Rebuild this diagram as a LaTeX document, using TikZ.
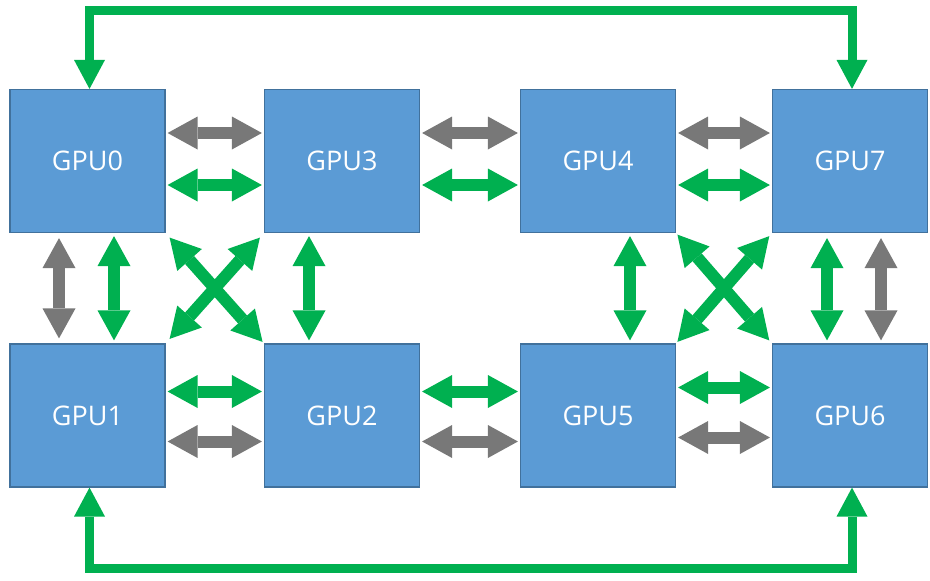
\documentclass[tikz,border=0pt]{standalone}
\usepackage{fontspec}
\setmainfont{Open Sans}
\usetikzlibrary{arrows.meta}
\definecolor{gpublue}{HTML}{5B9BD5}
\definecolor{gpuedge}{HTML}{41719C}
\definecolor{lnkgreen}{HTML}{00B050}
\definecolor{lnkgray}{HTML}{787878}
\tikzset{
  gpu/.style={draw=gpuedge, line width=1.2pt, fill=gpublue, minimum width=155pt, minimum height=143pt,
    inner sep=0pt, text=white, font=\fontsize{27}{30}\selectfont},
  fat/.style={line width=12pt, {Triangle[width=33pt,length=30pt,line width=0pt]}-{Triangle[width=33pt,length=30pt,line width=0pt]}, shorten <=2pt, shorten >=2pt},
  grn/.style={fat, draw=lnkgreen, fill=lnkgreen},
  gry/.style={fat, draw=lnkgray, fill=lnkgray},
  ring/.style={draw=lnkgreen, line width=9pt, line join=miter, fill=none},
}
\begin{document}
\begin{tikzpicture}[x=1pt,y=-1pt]
\useasboundingbox (0,0) rectangle (930,581);
\node[gpu] (g0) at (87.5,161) {GPU0};
\node[gpu] (g3) at (342,161) {GPU3};
\node[gpu] (g4) at (598,161) {GPU4};
\node[gpu] (g7) at (850,161) {GPU7};
\node[gpu] (g1) at (87.5,415.5) {GPU1};
\node[gpu] (g2) at (342,415.5) {GPU2};
\node[gpu] (g5) at (598,415.5) {GPU5};
\node[gpu] (g6) at (850,415.5) {GPU6};
% horizontal links, top row
\draw[gry] ([yshift=28pt]g0.east) -- ([yshift=28pt]g3.west);
\draw[grn] ([yshift=-24pt]g0.east) -- ([yshift=-24pt]g3.west);
\draw[gry] ([yshift=28pt]g3.east) -- ([yshift=28pt]g4.west);
\draw[grn] ([yshift=-24pt]g3.east) -- ([yshift=-24pt]g4.west);
\draw[gry] ([yshift=28pt]g4.east) -- ([yshift=28pt]g7.west);
\draw[grn] ([yshift=-24pt]g4.east) -- ([yshift=-24pt]g7.west);
% horizontal links, bottom row
\draw[grn] ([yshift=24pt]g1.east) -- ([yshift=24pt]g2.west);
\draw[gry] ([yshift=-26pt]g1.east) -- ([yshift=-26pt]g2.west);
\draw[grn] ([yshift=24pt]g2.east) -- ([yshift=24pt]g5.west);
\draw[gry] ([yshift=-26pt]g2.east) -- ([yshift=-26pt]g5.west);
\draw[grn] ([yshift=28pt]g5.east) -- ([yshift=28pt]g6.west);
\draw[gry] ([yshift=-22pt]g5.east) -- ([yshift=-22pt]g6.west);
% vertical links
\draw[gry, shorten <=5pt, shorten >=5pt] ([xshift=-28.5pt]g0.south) -- ([xshift=-28.5pt]g1.north);
\draw[grn, shorten <=3pt, shorten >=3pt] ([xshift=26.5pt]g0.south) -- ([xshift=26.5pt]g1.north);
\draw[grn, shorten <=3pt, shorten >=3pt] ([xshift=-33pt]g3.south) -- ([xshift=-33pt]g2.north);
\draw[grn, shorten <=3pt, shorten >=3pt] ([xshift=32pt]g4.south) -- ([xshift=32pt]g5.north);
\draw[grn, shorten <=5pt, shorten >=3pt] ([xshift=-23pt]g7.south) -- ([xshift=-23pt]g6.north);
\draw[gry, shorten <=5pt, shorten >=3pt] ([xshift=31pt]g7.south) -- ([xshift=31pt]g6.north);
% diagonal links
\draw[grn, shorten <=6pt, shorten >=2pt] (g0.south east) -- (g2.north west);
\draw[grn, shorten <=6pt, shorten >=6pt] (g3.south west) -- (g1.north east);
\draw[grn, shorten <=2pt, shorten >=4pt] (g4.south east) -- (g6.north west);
\draw[grn, shorten <=4pt, shorten >=2pt] (g7.south west) -- (g5.north east);
% outer ring links
\coordinate (topline) at (0,10);
\coordinate (botline) at (0,568);
\draw[ring, {Triangle[width=31pt,length=29pt,line width=0pt]}-{Triangle[width=31pt,length=29pt,line width=0pt]}]
  ([xshift=2pt]g0.north) -- ([xshift=2pt]g0.north |- topline) -- ([xshift=2pt]g7.north |- topline) -- ([xshift=2pt]g7.north);
\draw[ring, {Triangle[width=31pt,length=29pt,line width=0pt]}-{Triangle[width=31pt,length=29pt,line width=0pt]}]
  ([xshift=2pt]g1.south) -- ([xshift=2pt]g1.south |- botline) -- ([xshift=2pt]g6.south |- botline) -- ([xshift=2pt]g6.south);
\end{tikzpicture}
\end{document}
